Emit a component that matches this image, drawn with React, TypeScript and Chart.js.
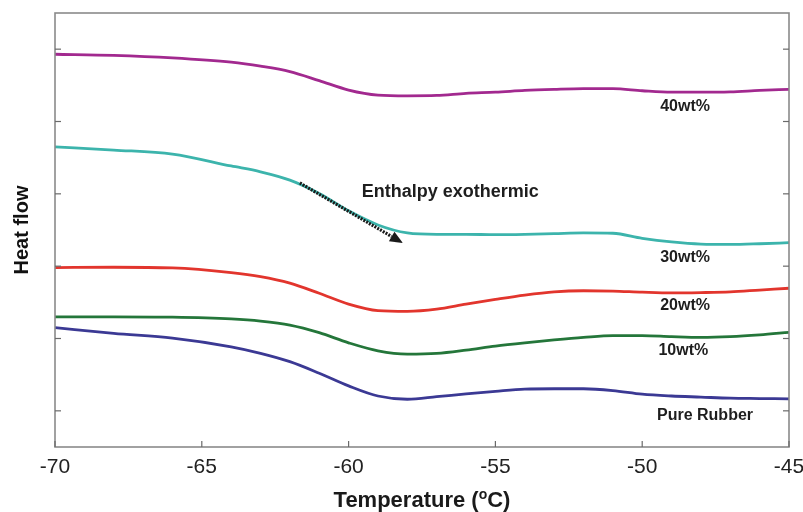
import { useEffect, useRef } from "react";
import { Chart, registerables } from "chart.js";

Chart.register(...registerables);

// Temperature sampling (°C) shared by every DSC trace
const temperatures = [-70, -68, -66, -64, -63, -62, -61, -60, -59, -58, -57, -56, -55, -54, -53, -52, -51, -50, -49, -48, -47, -46, -45];

// Heat flow traces (arbitrary offset units)
const wt40 = [10.86, 10.83, 10.76, 10.64, 10.53, 10.38, 10.13, 9.87, 9.73, 9.71, 9.72, 9.78, 9.81, 9.86, 9.89, 9.91, 9.91, 9.85, 9.81, 9.81, 9.82, 9.86, 9.89];
const wt30 = [8.3, 8.21, 8.1, 7.77, 7.61, 7.38, 7.01, 6.53, 6.14, 5.92, 5.88, 5.88, 5.87, 5.88, 5.9, 5.92, 5.91, 5.77, 5.67, 5.61, 5.6, 5.62, 5.65];
const wt20 = [4.96, 4.97, 4.95, 4.82, 4.71, 4.53, 4.25, 3.95, 3.77, 3.75, 3.81, 3.95, 4.08, 4.2, 4.29, 4.32, 4.31, 4.28, 4.26, 4.27, 4.29, 4.34, 4.39];
const wt10 = [3.6, 3.6, 3.59, 3.54, 3.48, 3.37, 3.16, 2.88, 2.66, 2.57, 2.59, 2.68, 2.79, 2.88, 2.96, 3.03, 3.08, 3.08, 3.05, 3.03, 3.05, 3.1, 3.17];
const pureRubber = [3.3, 3.14, 3.01, 2.77, 2.59, 2.36, 2.04, 1.69, 1.41, 1.32, 1.39, 1.47, 1.54, 1.6, 1.61, 1.61, 1.56, 1.46, 1.41, 1.38, 1.35, 1.34, 1.33];

const seriesNames = ["40wt%", "30wt%", "20wt%", "10wt%", "Pure Rubber"];
const seriesValues = [wt40, wt30, wt20, wt10, pureRubber];
const seriesColors = ["#a2298f", "#3cb4ac", "#e2352d", "#24763a", "#3b3994"];

const xTickValues = [-70, -65, -60, -55, -50, -45];
const yTickValues = [1, 3, 5, 7, 9, 11];

// Where each trace name is written (temperature, heat flow)
const nameAnchorX = [-48.54, -48.54, -48.54, -48.6, -47.86];
const nameAnchorY = [9.4, 5.24, 3.9, 2.67, 0.86];

// Annotation arrow and its caption
const arrowFrom = [-61.66, 7.3];
const arrowTo = [-58.15, 5.64];
const arrowCaption = "Enthalpy exothermic";
const captionAt = [-59.55, 7.05];

const overlay = {
  id: "overlay",
  afterDatasetsDraw(chart: any) {
    const { ctx, chartArea: a, scales } = chart;
    const x = scales.x;
    const y = scales.y;
    const seg = (x1: number, y1: number, x2: number, y2: number) => {
      ctx.beginPath();
      ctx.moveTo(x1, y1);
      ctx.lineTo(x2, y2);
      ctx.stroke();
    };
    ctx.save();

    // plot frame
    ctx.strokeStyle = "#8a8a8a";
    ctx.lineWidth = 1.6;
    ctx.strokeRect(a.left, a.top, a.right - a.left, a.bottom - a.top);

    // inward tick marks
    ctx.strokeStyle = "#6a6a6a";
    ctx.lineWidth = 1.2;
    yTickValues.forEach((v) => {
      const py = y.getPixelForValue(v);
      seg(a.left, py, a.left + 6, py);
      seg(a.right - 6, py, a.right, py);
    });
    xTickValues.forEach((v) => {
      const px = x.getPixelForValue(v);
      seg(px, a.bottom, px, a.bottom - 6);
    });

    // trace names
    ctx.fillStyle = "#1e1e1e";
    ctx.font = "bold 16px 'Liberation Sans', Arial, sans-serif";
    ctx.textAlign = "center";
    ctx.textBaseline = "middle";
    seriesNames.forEach((name, i) => {
      ctx.fillText(name, x.getPixelForValue(nameAnchorX[i]), y.getPixelForValue(nameAnchorY[i]));
    });

    // caption
    ctx.font = "bold 18px 'Liberation Sans', Arial, sans-serif";
    ctx.textAlign = "left";
    ctx.fillText(arrowCaption, x.getPixelForValue(captionAt[0]), y.getPixelForValue(captionAt[1]));

    // dotted arrow
    const x1 = x.getPixelForValue(arrowFrom[0]);
    const y1 = y.getPixelForValue(arrowFrom[1]);
    const x2 = x.getPixelForValue(arrowTo[0]);
    const y2 = y.getPixelForValue(arrowTo[1]);
    const ang = Math.atan2(y2 - y1, x2 - x1);
    const head = 13;
    const bx = x2 - head * Math.cos(ang);
    const by = y2 - head * Math.sin(ang);
    ctx.strokeStyle = "#1a1a1a";
    ctx.lineWidth = 3.2;
    ctx.setLineDash([2, 1.2]);
    seg(x1, y1, bx, by);
    ctx.setLineDash([]);
    ctx.fillStyle = "#1a1a1a";
    ctx.beginPath();
    ctx.moveTo(x2, y2);
    ctx.lineTo(bx + 5.5 * Math.sin(ang), by - 5.5 * Math.cos(ang));
    ctx.lineTo(bx - 5.5 * Math.sin(ang), by + 5.5 * Math.cos(ang));
    ctx.closePath();
    ctx.fill();

    // x-axis title with superscript degree "o"
    const cx = (a.left + a.right) / 2;
    const base = 507;
    const big = "bold 22px 'Liberation Sans', Arial, sans-serif";
    const small = "bold 14px 'Liberation Sans', Arial, sans-serif";
    const p1 = "Temperature (";
    const p2 = "o";
    const p3 = "C)";
    ctx.font = big;
    const w1 = ctx.measureText(p1).width;
    const w3 = ctx.measureText(p3).width;
    ctx.font = small;
    const w2 = ctx.measureText(p2).width;
    let sx = cx - (w1 + w2 + w3) / 2;
    ctx.fillStyle = "#1a1a1a";
    ctx.textAlign = "left";
    ctx.textBaseline = "alphabetic";
    ctx.font = big;
    ctx.fillText(p1, sx, base);
    sx += w1;
    ctx.font = small;
    ctx.fillText(p2, sx, base - 8);
    sx += w2;
    ctx.font = big;
    ctx.fillText(p3, sx, base);

    ctx.restore();
  },
};

export default function App() {
  const canvasRef = useRef<HTMLCanvasElement | null>(null);

  useEffect(() => {
    if (!canvasRef.current) return;
    const chart = new Chart(canvasRef.current, {
      type: "line",
      data: {
        datasets: seriesNames.map((name, i) => ({
          label: name,
          data: temperatures.map((t, j) => ({ x: t, y: seriesValues[i][j] })),
          borderColor: seriesColors[i],
          borderWidth: 2.8,
          pointRadius: 0,
          fill: false,
          cubicInterpolationMode: "monotone" as const,
        })),
      },
      options: {
        animation: false,
        responsive: true,
        maintainAspectRatio: false,
        layout: { padding: { top: 13, right: 14, left: 0, bottom: 0 } },
        plugins: {
          legend: { display: false },
          tooltip: { enabled: false },
        },
        scales: {
          x: {
            type: "linear",
            min: -70,
            max: -45,
            afterBuildTicks: (scale: any) => {
              scale.ticks = xTickValues.map((v) => ({ value: v }));
            },
            afterFit: (scale: any) => {
              scale.height = 65;
              scale.paddingLeft = 0;
              scale.paddingRight = 0;
            },
            grid: { display: false, drawTicks: false },
            border: { display: false },
            ticks: {
              padding: 8,
              color: "#222",
              font: { size: 21, family: "'Liberation Sans', Arial, sans-serif" },
              maxRotation: 0,
            },
          },
          y: {
            type: "linear",
            min: 0,
            max: 12,
            afterFit: (scale: any) => {
              scale.width = 55;
            },
            grid: { display: false, drawTicks: false },
            border: { display: false },
            ticks: { display: false },
            title: {
              display: true,
              text: "Heat flow",
              color: "#111",
              font: { size: 20, weight: "bold", family: "'Liberation Sans', Arial, sans-serif" },
              padding: { top: 10, bottom: 0 },
            },
          },
        },
      },
      plugins: [overlay],
    });
    return () => chart.destroy();
  }, []);

  return (
    <div style={{ position: "fixed", left: 0, top: 0, width: 803, height: 512, background: "#fff" }}>
      <canvas ref={canvasRef} />
    </div>
  );
}
